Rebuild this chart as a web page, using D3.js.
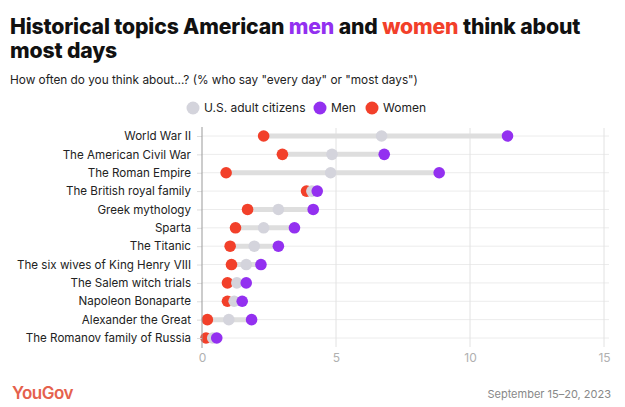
<!DOCTYPE html>
<html><head><meta charset="utf-8">
<script src="https://cdn.jsdelivr.net/npm/d3@7"></script>
<style>body{margin:0;background:#fff}svg{display:block}</style>
</head><body>
<svg id="c" width="625" height="407"></svg>
<script>
const topics = ["World War II","The American Civil War","The Roman Empire","The British royal family","Greek mythology","Sparta","The Titanic","The six wives of King Henry VIII","The Salem witch trials","Napoleon Bonaparte","Alexander the Great","The Romanov family of Russia"];
const usAdults = [6.7, 4.85, 4.8, 4.1, 2.85, 2.3, 1.95, 1.65, 1.3, 1.2, 1.0, 0.4];
const men      = [11.4, 6.8, 8.85, 4.3, 4.15, 3.45, 2.85, 2.2, 1.65, 1.5, 1.85, 0.55];
const women    = [2.3, 3.0, 0.9, 3.9, 1.7, 1.25, 1.05, 1.1, 0.95, 0.95, 0.2, 0.15];
const xTicks = [0, 5, 10, 15];
const legendItems = ["U.S. adult citizens", "Men", "Women"];

const C = {us:"#d4d4dc", men:"#9330f0", women:"#f2402a", bar:"#dedede"};
const svg = d3.select("#c");
const font = "Inter, 'Noto Sans', sans-serif";

// Title
const title = svg.append("text").attr("x",10).attr("y",34).attr("font-family",font).attr("font-weight",800).attr("font-size",21.2).attr("fill","#111").attr("letter-spacing","-0.15");
title.append("tspan").text("Historical topics American ");
title.append("tspan").attr("fill",C.men).text("men");
title.append("tspan").text(" and ");
title.append("tspan").attr("fill",C.women).text("women");
title.append("tspan").text(" think about");
svg.append("text").attr("x",10).attr("y",58).attr("font-family",font).attr("font-weight",800).attr("font-size",21.2).attr("fill","#111").attr("letter-spacing","-0.15").text("most days");

svg.append("text").attr("x",10).attr("y",84).attr("font-family",font).attr("font-size",11.8).attr("fill","#222")
  .text("How often do you think about...? (% who say \"every day\" or \"most days\")");

// Legend
const legCols = [C.us, C.men, C.women];
const legX = [193, 320, 372];
legendItems.forEach((t,i)=>{
  svg.append("circle").attr("cx",legX[i]).attr("cy",108).attr("r",6.5).attr("fill",legCols[i]);
  svg.append("text").attr("x",legX[i]+11).attr("y",112).attr("font-family",font).attr("font-size",12).attr("fill","#222").text(t);
});

// Scales
const x = d3.scaleLinear().domain([0,15]).range([202,604]);
const y = d3.scalePoint().domain(topics).range([136,338]);
const g = svg.append("g");

// row lines
g.selectAll(".row").data(topics).join("line")
  .attr("x1",x(0)).attr("x2",609).attr("y1",d=>y(d)).attr("y2",d=>y(d))
  .attr("stroke","#ececec").attr("stroke-width",1);

// vertical grid
g.selectAll(".vg").data(xTicks.filter(d=>d>0)).join("line")
  .attr("x1",d=>x(d)).attr("x2",d=>x(d)).attr("y1",128).attr("y2",347)
  .attr("stroke","#e2e2e2").attr("stroke-width",1);

// y axis
const yAxis = d3.axisLeft(y).tickSize(5).tickPadding(6);
const ya = svg.append("g").attr("transform",`translate(${x(0)},0)`).call(yAxis);
ya.select(".domain").remove();
ya.selectAll(".tick line").attr("stroke","#ddd");
ya.selectAll(".tick text").attr("font-family",font).attr("font-size",11.6).attr("fill","#222");
svg.append("line").attr("x1",x(0)).attr("x2",x(0)).attr("y1",127).attr("y2",348).attr("stroke","#999");

// x axis
const xAxis = d3.axisBottom(x).tickValues(xTicks).tickSize(0).tickPadding(5);
const xa = svg.append("g").attr("transform","translate(0,348)").call(xAxis);
xa.select(".domain").remove();
xa.selectAll(".tick text").attr("font-family",font).attr("font-size",12).attr("fill","#b0b0b0");

// bars
const data = topics.map((t,i)=>({t, us:usAdults[i], m:men[i], w:women[i]}));
g.selectAll(".bar").data(data).join("line")
  .attr("x1",d=>x(Math.min(d.w,d.m))).attr("x2",d=>x(Math.max(d.w,d.m)))
  .attr("y1",d=>y(d.t)).attr("y2",d=>y(d.t))
  .attr("stroke",C.bar).attr("stroke-width",5);

const r = 5.8;
g.selectAll(".dw").data(data).join("circle").attr("cx",d=>x(d.w)).attr("cy",d=>y(d.t)).attr("r",r).attr("fill",C.women);
g.selectAll(".du").data(data).join("circle").attr("cx",d=>x(d.us)).attr("cy",d=>y(d.t)).attr("r",r).attr("fill",C.us);
g.selectAll(".dm").data(data).join("circle").attr("cx",d=>x(d.m)).attr("cy",d=>y(d.t)).attr("r",r).attr("fill",C.men);

// footer
svg.append("text").attr("x",12).attr("y",399).attr("font-family",font).attr("font-weight",600).attr("font-size",17).attr("fill","#e5614d").attr("letter-spacing","-0.5").text("YouGov");
svg.append("text").attr("x",611).attr("y",398).attr("text-anchor","end").attr("font-family",font).attr("font-size",11).attr("fill","#888").text("September 15–20, 2023");
</script>
</body></html>
